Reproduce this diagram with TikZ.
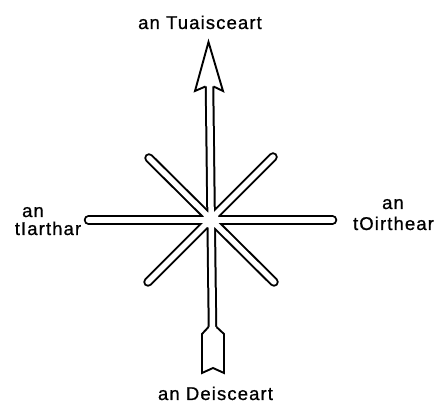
\documentclass[tikz,border=0pt]{standalone}
\usepackage{fontspec}
\setmainfont{Liberation Sans}[LetterSpace=6,FakeBold=0.8]
\begin{document}
\begin{tikzpicture}[x=1pt,y=-1pt,
  lbl/.style={font=\fontsize{18.5}{22}\selectfont, inner sep=0pt, anchor=base},
  barout/.style={line width=9.5pt, black, line cap=round},
  barin/.style={line width=5.5pt, white, line cap=round},
  outl/.style={line width=1.9pt, black, fill=white, line join=miter}]
\useasboundingbox (0,0) rectangle (437,403);
% coordinates
\coordinate (C) at (211,220);
\coordinate (W) at (88.5,220);
\coordinate (E) at (332.5,220);
\coordinate (NW) at (149,158);
\coordinate (NE) at (273,157);
\coordinate (SW) at (148,282);
\coordinate (SE) at (274,282);
\coordinate (Ntop) at (209.5,86);
\coordinate (Sbot) at (212.5,328);
% outer strokes
\draw[barout] (W) -- (E);
\draw[barout] (NW) -- (SE);
\draw[barout] (NE) -- (SW);
\draw[barout, line cap=butt] (Ntop) -- (Sbot);
% inner strokes
\draw[barin] (W) -- (E);
\draw[barin] (NW) -- (SE);
\draw[barin] (NE) -- (SW);
\draw[barin, line cap=butt] (Ntop) -- (Sbot);
\fill[white] (C) circle (8);
% north arrowhead
\draw[outl] (205.5,86.5) -- (195,91) -- (208.5,42) -- (223,91) -- (213.5,86.5);
% south tail
\draw[outl] (208.5,327) -- (202,334) -- (202,373) -- (213,368) -- (224,373) -- (224,334) -- (216.5,327);
% labels
\node[lbl] (ln) at (200,29) {an Tuaisceart};
\node[lbl] (ls) at (215.5,400) {an Deisceart};
\node[lbl] (lw1) at (33,217) {an};
\node[lbl] (lw2) at (48,235) {tIarthar};
\node[lbl] (le1) at (393,209) {an};
\node[lbl] (le2) at (393.5,230) {tOirthear};
\end{tikzpicture}
\end{document}
